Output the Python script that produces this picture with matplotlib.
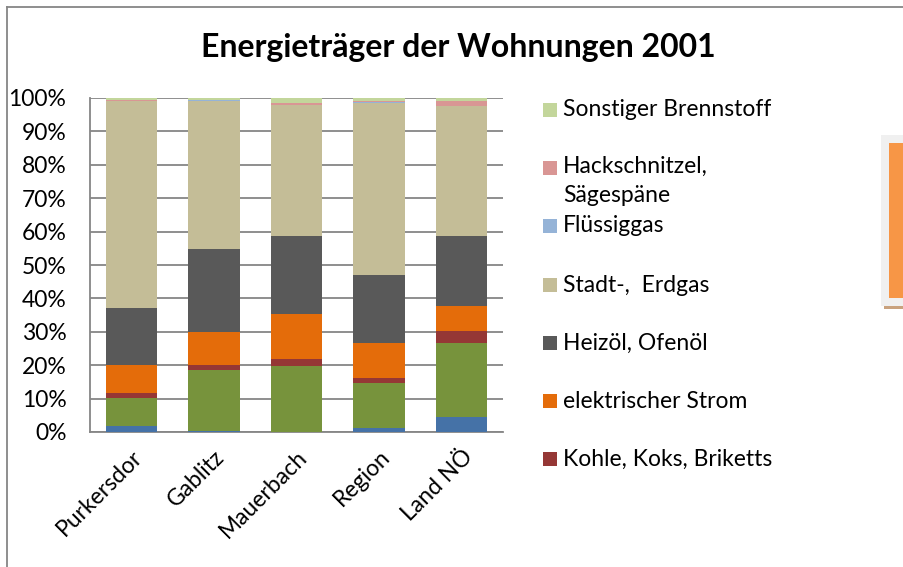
import matplotlib
matplotlib.use("Agg")
import matplotlib.pyplot as plt
from matplotlib.patches import Rectangle
from matplotlib.lines import Line2D
import numpy as np

plt.rcParams['font.family'] = ['Lato', 'DejaVu Sans']

categories = ["Purkersdor", "Gablitz", "Mauerbach", "Region", "Land NÖ"]

series_names = ["Fernwärme", "Holz", "Kohle, Koks, Briketts", "elektrischer Strom",
                "Heizöl, Ofenöl", "Stadt-,  Erdgas", "Flüssiggas",
                "Hackschnitzel,\nSägespäne", "Sonstiger Brennstoff"]
fernwaerme   = [1.8, 0.2, 0.1, 1.3, 4.6]
holz         = [8.3, 18.3, 19.6, 13.4, 21.9]
kohle        = [1.7, 1.6, 2.1, 1.6, 3.8]
strom        = [8.4, 9.7, 13.6, 10.2, 7.4]
heizoel      = [16.9, 25.1, 23.4, 20.6, 21.1]
erdgas       = [61.9, 44.2, 39.0, 51.4, 38.7]
fluessiggas  = [0.2, 0.2, 0.2, 0.2, 0.2]
hackschnitzel = [0.1, 0.1, 0.6, 0.5, 1.5]
sonstiger    = [0.7, 0.6, 1.4, 0.8, 0.8]

series = [fernwaerme, holz, kohle, strom, heizoel, erdgas, fluessiggas, hackschnitzel, sonstiger]
colors = ["#4572A7", "#77933C", "#953735", "#E46C0A", "#595959", "#C4BD97",
          "#95B3D7", "#D99694", "#C3D69B"]

W, H = 904, 567
fig = plt.figure(figsize=(W/100, H/100), dpi=100)
ax = fig.add_axes([90/W, 1-432/H, 413/W, 334/H])

x = np.arange(len(categories))
data = np.array(series, dtype=float)
totals = data.sum(axis=0)
pct = data / totals * 100
bottom = np.zeros(len(categories))
for vals, c in zip(pct, colors):
    ax.bar(x, vals, 0.62, bottom=bottom, color=c, linewidth=0, zorder=3)
    bottom += vals

ax.set_xlim(-0.5, len(categories)-0.5)
ax.set_ylim(0, 100)
ax.set_yticks(np.arange(0, 101, 10))
ax.set_yticklabels([f"{v}%" for v in range(0, 101, 10)], fontsize=16.5)
ax.set_xticks(x)
ax.set_xticklabels(categories, rotation=45, ha='right', rotation_mode='anchor', fontsize=16.5)
ax.tick_params(axis='x', length=0, pad=10)
ax.tick_params(axis='y', length=0, pad=17)
for lbl in ax.get_xticklabels():
    lbl.set_x(lbl.get_position()[0])
ax.yaxis.grid(True, color='#868686', linewidth=1.3, zorder=0)
ax.set_axisbelow(True)
for s in ['top', 'right']:
    ax.spines[s].set_visible(False)
for s in ['left', 'bottom']:
    ax.spines[s].set_color('#868686')
    ax.spines[s].set_linewidth(1.3)

fig.text(458/W, 1-47/H, "Energieträger der Wohnungen 2001", ha='center', va='center',
         fontsize=23, fontweight='bold')

# legend (top 7 entries; the rest is clipped in the reference)
legend_items = list(range(8, 1, -1))
ys = [110, 168, 226, 285, 343, 401, 459]
for idx, yy in zip(legend_items, ys):
    fig.add_artist(Rectangle((543/W, 1-(yy+7)/H), 14/W, 14/H, transform=fig.transFigure,
                             facecolor=colors[idx], edgecolor='none'))
    name = series_names[idx]
    if '\n' in name:
        fig.text(563/W, 1-(yy-12)/H, name, ha='left', va='top', fontsize=16.5, linespacing=1.45)
    else:
        fig.text(563/W, 1-yy/H, name, ha='left', va='center', fontsize=16.5)

# outer chart border
fig.add_artist(Line2D([7/W, 1], [1-7/H, 1-7/H], transform=fig.transFigure, color='#868686', lw=1.3))
fig.add_artist(Line2D([7/W, 7/W], [0, 1-7/H], transform=fig.transFigure, color='#868686', lw=1.3))
# partial object at right edge
fig.add_artist(Rectangle((881/W, 1-306/H), 30/W, 171/H, transform=fig.transFigure,
                         facecolor='#F0F0F0', edgecolor='none'))
fig.add_artist(Rectangle((889/W, 1-298/H), 20/W, 155/H, transform=fig.transFigure,
                         facecolor='#F79646', edgecolor='none'))
fig.add_artist(Rectangle((884/W, 1-309/H), 25/W, 3/H, transform=fig.transFigure,
                         facecolor='#C9A27E', edgecolor='none'))

fig.savefig("out.png", dpi=100)
